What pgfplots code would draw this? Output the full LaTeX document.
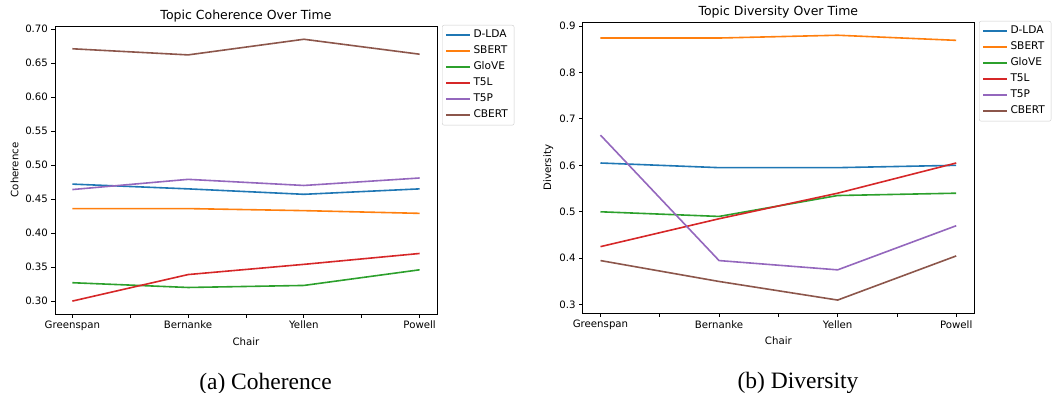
\documentclass[border=0pt]{standalone}
\usepackage{fontspec}
\setmainfont{DejaVu Sans}
\newfontfamily\capfont{Liberation Serif}
\usepackage{pgfplots}
\usepackage{pgfplotstable}
\pgfplotsset{compat=1.18}

\definecolor{c0}{HTML}{1F77B4}
\definecolor{c1}{HTML}{FF7F0E}
\definecolor{c2}{HTML}{2CA02C}
\definecolor{c3}{HTML}{D62728}
\definecolor{c4}{HTML}{9467BD}
\definecolor{c5}{HTML}{8C564B}

\pgfplotstableread{
x DLDA SBERT GloVE TFL TFP CBERT
0 0.472 0.436 0.327 0.300 0.464 0.671
1 0.465 0.436 0.320 0.339 0.479 0.662
2 0.457 0.433 0.323 0.354 0.470 0.685
3 0.465 0.429 0.346 0.370 0.481 0.663
}\coh

\pgfplotstableread{
x DLDA SBERT GloVE TFL TFP CBERT
0 0.605 0.874 0.500 0.425 0.665 0.395
1 0.595 0.874 0.490 0.485 0.395 0.350
2 0.595 0.880 0.535 0.540 0.375 0.310
3 0.600 0.869 0.540 0.605 0.470 0.405
}\div

\pgfplotsset{
  mystyle/.style={
    scale only axis,
    xmin=-0.15, xmax=3.15,
    xtick={0,1,2,3},
    xticklabels={Greenspan,Bernanke,Yellen,Powell},
    minor xtick={0.5,1.5,2.5},
    tick align=outside, tick pos=left,
    major tick length=3.5pt, minor tick length=3.5pt,
    every tick/.style={black, line width=0.8pt},
    axis line style={line width=0.8pt},
    ticklabel style={font=\fontsize{10.2}{12}\selectfont},
    /pgf/number format/assume math mode=true,
    label style={font=\fontsize{10.2}{12}\selectfont},
    title style={font=\fontsize{12.5}{14}\selectfont, anchor=base},
    xlabel=Chair,
    xlabel style={at={(axis description cs:0.5,0)}, anchor=base, yshift=-31pt},
    legend style={at={(1,1)}, anchor=north west, xshift=5pt, yshift=1pt,
      font=\fontsize{10.6}{12}\selectfont, draw=black!20, rounded corners=2pt,
      nodes={inner sep=3.2pt, text height=7.6pt, text depth=2pt}},
    legend cell align=left,
    legend image code/.code={\draw[#1, line width=1.6pt] (0pt,0pt) -- (21pt,0pt); \path (0pt,0pt) -- (23.5pt,0pt);},
    every axis plot/.append style={line width=1.6pt},
  }
}

\begin{document}
\begin{tikzpicture}
\useasboundingbox (0,0) rectangle (1052pt,-393pt);

\begin{axis}[mystyle,
  at={(55pt,-314pt)}, anchor=south west,
  width=382pt, height=288pt,
  ymin=0.281, ymax=0.7045,
  ytick={0.30,0.35,0.40,0.45,0.50,0.55,0.60,0.65,0.70},
  yticklabel style={/pgf/number format/.cd, fixed, fixed zerofill, precision=2},
  title={Topic Coherence Over Time},
  ylabel={Coherence},
  ylabel style={at={(axis description cs:-0.096,0.5)}, anchor=base},
]
\addplot[c0] table[x=x,y=DLDA]{\coh}; \addlegendentry{D-LDA}
\addplot[c1] table[x=x,y=SBERT]{\coh}; \addlegendentry{SBERT}
\addplot[c2] table[x=x,y=GloVE]{\coh}; \addlegendentry{GloVE}
\addplot[c3] table[x=x,y=TFL]{\coh}; \addlegendentry{T5L}
\addplot[c4] table[x=x,y=TFP]{\coh}; \addlegendentry{T5P}
\addplot[c5] table[x=x,y=CBERT]{\coh}; \addlegendentry{CBERT}
\end{axis}

\begin{axis}[mystyle,
  at={(582.7pt,-313.3pt)}, anchor=south west,
  width=391.3pt, height=291.3pt,
  ymin=0.2815, ymax=0.9085,
  ytick={0.3,0.4,0.5,0.6,0.7,0.8,0.9},
  yticklabel style={/pgf/number format/.cd, fixed, fixed zerofill, precision=1},
  title={Topic Diversity Over Time},
  ylabel={Diversity},
  ylabel style={at={(axis description cs:-0.081,0.5)}, anchor=base},
]
\addplot[c0] table[x=x,y=DLDA]{\div}; \addlegendentry{D-LDA}
\addplot[c1] table[x=x,y=SBERT]{\div}; \addlegendentry{SBERT}
\addplot[c2] table[x=x,y=GloVE]{\div}; \addlegendentry{GloVE}
\addplot[c3] table[x=x,y=TFL]{\div}; \addlegendentry{T5L}
\addplot[c4] table[x=x,y=TFP]{\div}; \addlegendentry{T5P}
\addplot[c5] table[x=x,y=CBERT]{\div}; \addlegendentry{CBERT}
\end{axis}

\node[anchor=base, font=\capfont\fontsize{23.5}{26}\selectfont] at (265.5pt,-389pt) {(a) Coherence};
\node[anchor=base, font=\capfont\fontsize{23.5}{26}\selectfont] at (798pt,-388.5pt) {(b) Diversity};
\end{tikzpicture}
\end{document}
